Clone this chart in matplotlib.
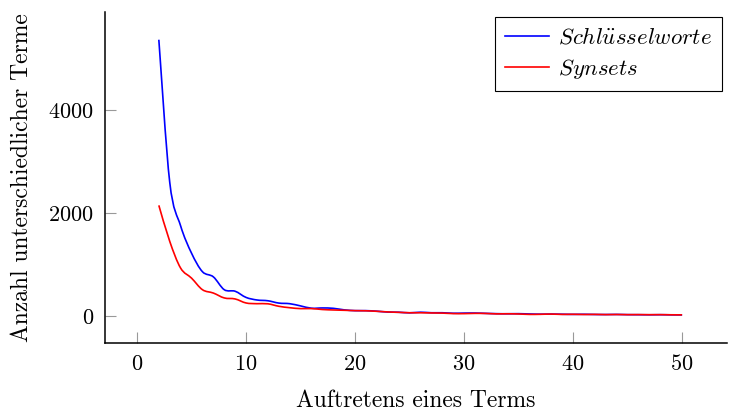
import numpy as np
import matplotlib.pyplot as plt
from matplotlib.path import Path
from matplotlib.patches import PathPatch
from matplotlib.lines import Line2D

# Data
x = np.arange(2, 51)
schluesselworte = [5370, 2600, 1750, 1220, 860, 760, 510, 480, 360, 310, 295, 250, 238, 195,
                   150, 155, 148, 118, 103, 103, 92, 75, 72, 60, 72, 62, 62, 52, 55, 56,
                   50, 44, 42, 44, 38, 34, 36, 33, 30, 32, 28, 27, 29, 25, 24, 22, 24, 21, 20]
synsets = [2150, 1450, 930, 735, 510, 445, 350, 330, 252, 238, 236, 188, 160, 142,
           143, 125, 116, 110, 103, 100, 90, 78, 70, 62, 62, 58, 55, 46, 45, 50,
           48, 40, 42, 38, 30, 32, 36, 30, 32, 28, 30, 26, 28, 25, 26, 24, 25, 22, 21]

plt.rcParams['font.family'] = 'serif'
plt.rcParams['font.serif'] = ['cmr10']
plt.rcParams['mathtext.fontset'] = 'cm'
plt.rcParams['axes.formatter.use_mathtext'] = True


def smooth_path(xs, ys, k=1.0):
    # bezier curve through the points, like pgfplots "smooth"
    pts = np.column_stack([xs, ys]).astype(float)
    n = len(pts)
    verts = [pts[0]]
    codes = [Path.MOVETO]
    for i in range(n - 1):
        p0 = pts[max(i - 1, 0)]
        p1 = pts[i]
        p2 = pts[i + 1]
        p3 = pts[min(i + 2, n - 1)]
        c1 = p1 + (p2 - p0) * k / 6
        c2 = p2 - (p3 - p1) * k / 6
        verts += [c1, c2, p2]
        codes += [Path.CURVE4] * 3
    return Path(verts, codes)


fig = plt.figure(figsize=(7.29, 4.12), dpi=100)
ax = fig.add_axes([0.144, 0.167, 0.853, 0.804])

for ys, col in [(schluesselworte, 'blue'), (synsets, 'red')]:
    ax.add_patch(PathPatch(smooth_path(x, ys), facecolor='none', edgecolor=col, lw=1.2))

handles = [Line2D([], [], color='blue', lw=1.2), Line2D([], [], color='red', lw=1.2)]
labels = [r'$\mathit{Schl\ddot{u}sselworte}$', r'$\mathit{Synsets}$']

ax.set_xlim(-2.94, 54.1)
ax.set_ylim(-530, 5910)
ax.set_xticks([0, 10, 20, 30, 40, 50])
ax.set_yticks([0, 2000, 4000])

for s in ['top', 'right']:
    ax.spines[s].set_visible(False)
for s in ['left', 'bottom']:
    ax.spines[s].set_linewidth(1.1)

ax.tick_params(direction='in', length=8, width=0.8, color='#999999', labelsize=16, pad=8)

ax.set_xlabel('Auftretens eines Terms', fontsize=17, labelpad=11)
ax.set_ylabel('Anzahl unterschiedlicher Terme', fontsize=17, labelpad=11)

leg = ax.legend(handles, labels, loc='upper right', fontsize=16.5, fancybox=False,
                edgecolor='black', framealpha=1, handlelength=1.9, borderaxespad=0.2,
                borderpad=0.45, labelspacing=0.4, handletextpad=0.4)
leg.get_frame().set_linewidth(0.8)

fig.savefig('out.png', dpi=100)
